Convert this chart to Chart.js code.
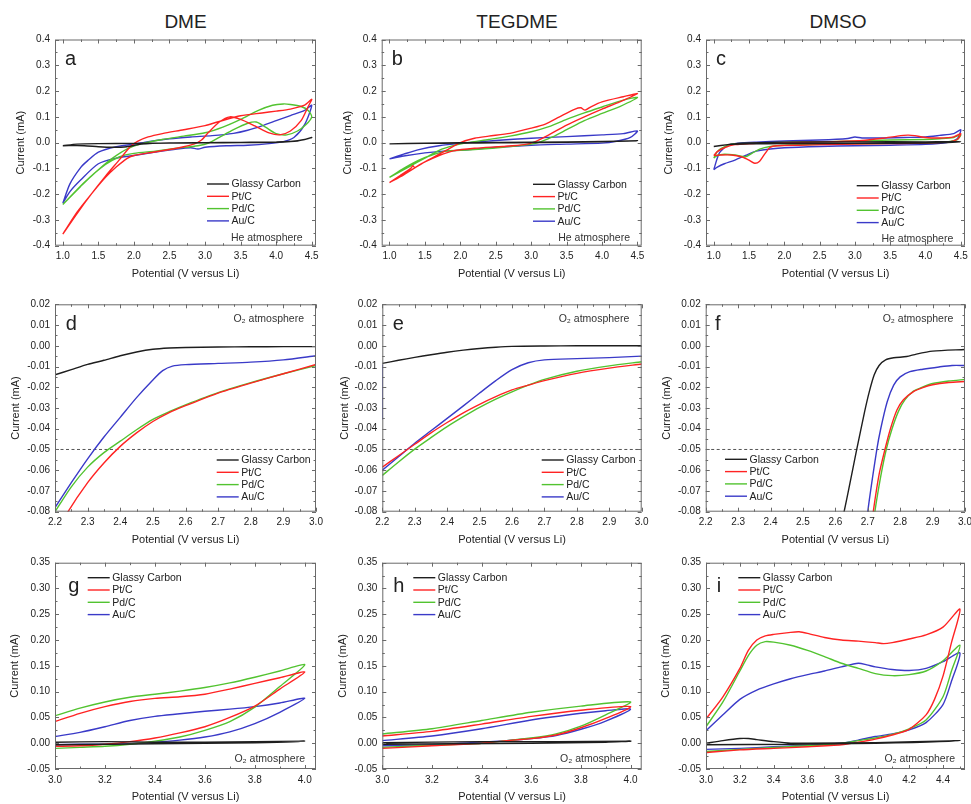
<!DOCTYPE html>
<html lang="en">
<head>
<meta charset="utf-8">
<title>Cyclic voltammetry in DME, TEGDME and DMSO</title>
<script src="https://cdn.jsdelivr.net/npm/chart.js@4.4.1/dist/chart.umd.min.js"></script>
<style>
  html, body { margin: 0; padding: 0; background: #fff; overflow: hidden; }
  body { position: relative; width: 971px; height: 804px; font-family: 'Liberation Sans', Arial, sans-serif; }
  .col-title { position: absolute; top: 11px; height: 22px; line-height: 22px; font-size: 19px; color: #222; transform: translateX(-50%); white-space: nowrap; }
  canvas { position: absolute; }
</style>
</head>
<body>
<div class="col-title" style="left:185.5px">DME</div>
<div class="col-title" style="left:517px">TEGDME</div>
<div class="col-title" style="left:838px">DMSO</div>
<script>
// ─── Series names / tick values ───────────────────────────────
const seriesNames = ['Glassy Carbon', 'Pt/C', 'Pd/C', 'Au/C'];
const seriesColors = ['#1e1e1e', '#ff2323', '#52c330', '#3a3ac8'];

const heTicksX = [1.0, 1.5, 2.0, 2.5, 3.0, 3.5, 4.0, 4.5];
const heTicksY = [-0.4, -0.3, -0.2, -0.1, 0.0, 0.1, 0.2, 0.3, 0.4];
const lsvTicksX = [2.2, 2.3, 2.4, 2.5, 2.6, 2.7, 2.8, 2.9, 3.0];
const lsvTicksY = [-0.08, -0.07, -0.06, -0.05, -0.04, -0.03, -0.02, -0.01, 0.00, 0.01, 0.02];
const o2TicksX = [3.0, 3.2, 3.4, 3.6, 3.8, 4.0];
const o2TicksXDmso = [3.0, 3.2, 3.4, 3.6, 3.8, 4.0, 4.2, 4.4];
const o2TicksY = [-0.05, 0.00, 0.05, 0.10, 0.15, 0.20, 0.25, 0.30, 0.35];
const lsvLimit = -0.05;

// ─── CV under He: [potential V, current mA] ───────────────────
const heDmeGC = [[1.0,-0.012],[1.2,-0.006],[1.5,-0.004],[2.0,-0.003],[2.5,-0.002],[3.0,-0.001],[3.5,0.0],[4.0,0.001],[4.2,0.004],[4.4,0.012],[4.5,0.02],
  [4.3,0.006],[4.0,0.002],[3.5,0.001],[3.0,0.0],[2.5,-0.001],[2.1,-0.006],[1.9,-0.016],[1.7,-0.018],[1.5,-0.016],[1.3,-0.012],[1.0,-0.012]];
const heDmePt = [[1.0,-0.355],[1.2,-0.27],[1.4,-0.2],[1.6,-0.135],[1.75,-0.095],[1.9,-0.062],[2.0,-0.05],[2.2,-0.04],[2.5,-0.027],[2.7,-0.016],[2.85,-0.005],
  [2.95,0.01],[3.05,0.04],[3.2,0.08],[3.35,0.1],[3.5,0.09],[3.7,0.065],[3.9,0.038],[4.05,0.03],[4.2,0.045],[4.35,0.085],[4.45,0.14],[4.5,0.168],
  [4.4,0.145],[4.2,0.13],[4.0,0.122],[3.8,0.115],[3.5,0.104],[3.2,0.082],[3.0,0.066],[2.7,0.05],[2.4,0.035],[2.2,0.022],[2.05,0.005],[1.95,-0.015],
  [1.8,-0.065],[1.6,-0.13],[1.4,-0.2],[1.2,-0.275],[1.0,-0.355]];
const heDmePd = [[1.0,-0.24],[1.25,-0.17],[1.4,-0.13],[1.6,-0.085],[1.8,-0.055],[2.0,-0.042],[2.3,-0.033],[2.6,-0.022],[2.9,-0.012],[3.05,-0.002],
  [3.2,0.02],[3.4,0.05],[3.6,0.075],[3.72,0.08],[3.85,0.06],[4.0,0.035],[4.15,0.03],[4.3,0.045],[4.42,0.07],[4.5,0.1],
  [4.45,0.125],[4.35,0.14],[4.2,0.148],[4.1,0.15],[3.95,0.145],[3.75,0.125],[3.5,0.09],[3.25,0.06],[3.0,0.038],[2.7,0.025],[2.4,0.012],[2.1,-0.005],
  [1.9,-0.025],[1.7,-0.06],[1.5,-0.105],[1.3,-0.155],[1.0,-0.24]];
const heDmeAu = [[1.0,-0.235],[1.1,-0.19],[1.25,-0.145],[1.5,-0.082],[1.75,-0.06],[2.0,-0.05],[2.3,-0.037],[2.6,-0.025],[2.8,-0.02],[2.9,-0.025],
  [3.0,-0.018],[3.3,-0.012],[3.6,-0.01],[3.9,-0.004],[4.1,0.004],[4.25,0.02],[4.4,0.07],[4.5,0.145],
  [4.4,0.125],[4.2,0.105],[4.0,0.085],[3.8,0.065],[3.6,0.048],[3.4,0.036],[3.1,0.027],[2.8,0.022],[2.5,0.015],[2.2,0.004],[2.0,-0.006],
  [1.75,-0.016],[1.5,-0.037],[1.35,-0.07],[1.25,-0.097],[1.1,-0.16],[1.0,-0.235]];

const heTegGC = [[1.0,-0.005],[1.5,-0.003],[2.0,-0.002],[2.5,-0.001],[3.0,0.0],[3.5,0.001],[4.0,0.003],[4.5,0.007],
  [4.0,0.004],[3.0,0.002],[2.0,0.0],[1.5,-0.002],[1.0,-0.005]];
const heTegPt = [[1.0,-0.155],[1.15,-0.128],[1.3,-0.1],[1.33,-0.09],[1.36,-0.097],[1.5,-0.075],[1.7,-0.05],[1.9,-0.032],[2.2,-0.022],[2.6,-0.015],
  [2.9,-0.008],[3.05,0.003],[3.25,0.03],[3.5,0.068],[3.75,0.1],[4.0,0.13],[4.25,0.158],[4.5,0.19],
  [4.3,0.178],[4.0,0.158],[3.85,0.14],[3.76,0.126],[3.7,0.135],[3.62,0.13],[3.4,0.1],[3.2,0.072],[3.0,0.056],[2.7,0.036],[2.4,0.025],[2.2,0.017],
  [2.0,0.0],[1.8,-0.03],[1.6,-0.06],[1.4,-0.09],[1.2,-0.125],[1.0,-0.155]];
const heTegPd = [[1.0,-0.135],[1.2,-0.1],[1.4,-0.07],[1.6,-0.048],[1.8,-0.033],[2.0,-0.03],[2.3,-0.025],[2.6,-0.018],[2.9,-0.01],[3.1,0.0],
  [3.3,0.022],[3.5,0.05],[3.75,0.085],[4.0,0.113],[4.25,0.14],[4.5,0.175],
  [4.3,0.165],[4.0,0.138],[3.75,0.115],[3.5,0.09],[3.25,0.062],[3.0,0.042],[2.7,0.025],[2.4,0.012],[2.1,0.0],[1.9,-0.012],[1.7,-0.03],
  [1.5,-0.06],[1.3,-0.09],[1.0,-0.135]];
const heTegAu = [[1.0,-0.063],[1.2,-0.052],[1.5,-0.04],[1.8,-0.032],[2.1,-0.028],[2.5,-0.018],[3.0,-0.01],[3.5,-0.006],[4.0,-0.002],[4.2,0.005],
  [4.4,0.02],[4.5,0.045],
  [4.3,0.035],[4.0,0.03],[3.5,0.023],[3.0,0.017],[2.5,0.008],[2.0,-0.003],[1.7,-0.012],[1.4,-0.028],[1.2,-0.045],[1.0,-0.063]];

const heDmsoGC = [[1.0,-0.015],[1.2,-0.008],[1.5,-0.005],[2.0,-0.004],[3.0,-0.003],[4.0,-0.002],[4.5,0.003],
  [4.0,0.003],[3.0,0.003],[2.0,0.002],[1.4,-0.002],[1.2,-0.008],[1.0,-0.015]];
const heDmsoPt = [[1.0,-0.05],[1.1,-0.048],[1.25,-0.048],[1.4,-0.056],[1.5,-0.068],[1.58,-0.08],[1.65,-0.072],[1.72,-0.045],[1.8,-0.018],[1.9,-0.012],
  [2.2,-0.01],[2.6,-0.008],[3.0,-0.006],[3.5,-0.004],[4.0,-0.002],[4.3,0.002],[4.45,0.012],[4.5,0.035],
  [4.4,0.022],[4.2,0.018],[4.0,0.02],[3.85,0.027],[3.75,0.029],[3.6,0.025],[3.4,0.017],[3.1,0.008],[2.6,0.003],[2.0,0.0],[1.6,-0.003],
  [1.3,-0.008],[1.15,-0.02],[1.05,-0.035],[1.0,-0.05]];
const heDmsoPd = [[1.0,-0.06],[1.05,-0.05],[1.15,-0.045],[1.3,-0.048],[1.45,-0.055],[1.55,-0.04],[1.65,-0.025],[1.8,-0.015],[2.0,-0.01],[2.5,-0.007],
  [3.0,-0.005],[3.5,-0.003],[4.0,-0.001],[4.3,0.003],[4.45,0.012],[4.5,0.03],
  [4.4,0.02],[4.2,0.015],[4.0,0.012],[3.5,0.01],[3.0,0.006],[2.5,0.003],[2.0,0.001],[1.5,-0.003],[1.25,-0.006],[1.12,-0.02],[1.05,-0.035],[1.0,-0.06]];
const heDmsoAu = [[1.0,-0.105],[1.05,-0.095],[1.15,-0.082],[1.3,-0.068],[1.45,-0.05],[1.6,-0.033],[1.8,-0.025],[2.0,-0.02],[2.5,-0.015],[3.0,-0.012],
  [3.5,-0.01],[4.0,-0.007],[4.3,0.0],[4.45,0.015],[4.5,0.05],
  [4.4,0.035],[4.2,0.028],[4.0,0.022],[3.7,0.02],[3.4,0.018],[3.1,0.018],[3.0,0.022],[2.9,0.016],[2.5,0.01],[2.0,0.006],[1.6,0.002],
  [1.35,-0.002],[1.2,-0.01],[1.08,-0.04],[1.0,-0.105]];

// ─── Linear sweeps under O2 (cathodic onset) ──────────────────
const lsvDmeGC = [[2.2,-0.014],[2.25,-0.0115],[2.3,-0.009],[2.35,-0.007],[2.4,-0.0048],[2.45,-0.003],[2.5,-0.0017],[2.55,-0.0011],[2.6,-0.0008],
  [2.7,-0.0006],[2.8,-0.0005],[2.9,-0.0004],[3.0,-0.0004]];
const lsvDmePt = [[2.2,-0.092],[2.24,-0.08],[2.3,-0.066],[2.35,-0.0565],[2.4,-0.0485],[2.45,-0.042],[2.5,-0.0365],[2.55,-0.0322],[2.6,-0.0289],
  [2.7,-0.0228],[2.8,-0.018],[2.9,-0.0135],[3.0,-0.009]];
const lsvDmePd = [[2.2,-0.08],[2.25,-0.068],[2.3,-0.0585],[2.35,-0.0515],[2.4,-0.046],[2.45,-0.0405],[2.5,-0.0355],[2.55,-0.0318],[2.6,-0.0285],
  [2.7,-0.0226],[2.8,-0.0178],[2.9,-0.0135],[3.0,-0.0095]];
const lsvDmeAu = [[2.2,-0.078],[2.25,-0.066],[2.3,-0.0545],[2.35,-0.044],[2.4,-0.0345],[2.45,-0.025],[2.5,-0.0165],[2.53,-0.012],[2.56,-0.0098],
  [2.6,-0.0091],[2.7,-0.0085],[2.8,-0.0079],[2.9,-0.0068],[3.0,-0.0048]];

const lsvTegGC = [[2.2,-0.0085],[2.25,-0.007],[2.3,-0.0056],[2.35,-0.0043],[2.4,-0.0031],[2.45,-0.0021],[2.5,-0.0013],[2.55,-0.0007],[2.6,-0.0003],
  [2.7,-0.0001],[2.8,0.0],[3.0,0.0]];
const lsvTegPt = [[2.2,-0.0585],[2.25,-0.053],[2.3,-0.0475],[2.35,-0.042],[2.4,-0.037],[2.45,-0.0323],[2.5,-0.0282],[2.55,-0.0245],[2.6,-0.0213],
  [2.65,-0.019],[2.7,-0.0168],[2.8,-0.0133],[2.9,-0.0108],[3.0,-0.0088]];
const lsvTegPd = [[2.2,-0.0625],[2.25,-0.056],[2.3,-0.0498],[2.35,-0.0443],[2.4,-0.039],[2.45,-0.0342],[2.5,-0.0297],[2.55,-0.0257],[2.6,-0.0222],
  [2.65,-0.019],[2.7,-0.0162],[2.8,-0.0123],[2.9,-0.0097],[3.0,-0.0077]];
const lsvTegAu = [[2.2,-0.0355],[2.2,-0.009],null,[2.2,-0.06],[2.25,-0.0535],[2.3,-0.047],[2.35,-0.041],[2.4,-0.035],[2.45,-0.029],[2.5,-0.0228],
  [2.55,-0.0168],[2.6,-0.0115],[2.65,-0.0082],[2.7,-0.0068],[2.8,-0.0062],[2.9,-0.0057],[3.0,-0.005]];

const lsvDmsoGC = [[2.61,-0.09],[2.627,-0.08],[2.666,-0.05],[2.69,-0.032],[2.705,-0.022],[2.72,-0.014],[2.735,-0.0095],[2.755,-0.0068],[2.78,-0.0058],
  [2.82,-0.0052],[2.85,-0.004],[2.9,-0.0026],[3.0,-0.0018]];
const lsvDmsoPt = [[2.71,-0.09],[2.717,-0.08],[2.735,-0.062],[2.753,-0.05],[2.77,-0.04],[2.79,-0.031],[2.81,-0.026],[2.84,-0.0222],[2.87,-0.0202],
  [2.9,-0.0188],[2.95,-0.0177],[3.0,-0.0172]];
const lsvDmsoPd = [[2.715,-0.09],[2.722,-0.08],[2.74,-0.063],[2.757,-0.05],[2.775,-0.04],[2.795,-0.0315],[2.815,-0.026],[2.84,-0.022],[2.87,-0.0198],
  [2.9,-0.0182],[2.95,-0.017],[3.0,-0.0162]];
const lsvDmsoAu = [[2.695,-0.09],[2.70,-0.08],[2.728,-0.05],[2.74,-0.04],[2.76,-0.027],[2.78,-0.019],[2.8,-0.015],[2.83,-0.0125],[2.87,-0.0113],
  [2.92,-0.0102],[2.96,-0.0095],[3.0,-0.0095]];

// ─── CV under O2, oxidation region ────────────────────────────
const o2DmeGC = [[3.0,-0.003],[3.2,-0.002],[3.4,-0.001],[3.6,0.0],[3.8,0.001],[4.0,0.004],[3.8,0.003],[3.6,0.002],[3.4,0.002],[3.2,0.003],[3.0,0.002]];
const o2DmePt = [[3.0,-0.006],[3.1,-0.005],[3.2,-0.002],[3.3,0.003],[3.4,0.01],[3.5,0.02],[3.6,0.032],[3.7,0.05],[3.8,0.072],[3.9,0.105],[4.0,0.138],
  [3.9,0.127],[3.8,0.116],[3.7,0.105],[3.6,0.095],[3.5,0.09],[3.4,0.087],[3.3,0.081],[3.2,0.071],[3.1,0.058],[3.0,0.042]];
const o2DmePd = [[3.0,-0.01],[3.1,-0.008],[3.2,-0.006],[3.3,-0.002],[3.4,0.004],[3.5,0.012],[3.6,0.025],[3.7,0.042],[3.8,0.07],[3.9,0.11],[4.0,0.152],
  [3.9,0.14],[3.8,0.128],[3.7,0.117],[3.6,0.108],[3.5,0.101],[3.4,0.095],[3.3,0.089],[3.2,0.08],[3.1,0.068],[3.0,0.053]];
const o2DmeAu = [[3.0,-0.003],[3.1,-0.002],[3.2,-0.002],[3.3,-0.001],[3.4,0.002],[3.5,0.006],[3.6,0.012],[3.7,0.022],[3.8,0.038],[3.9,0.06],[4.0,0.087],
  [3.9,0.078],[3.8,0.071],[3.7,0.066],[3.6,0.062],[3.5,0.057],[3.4,0.052],[3.3,0.044],[3.2,0.032],[3.1,0.021],[3.0,0.013]];

const o2TegGC = [[3.0,-0.002],[3.3,-0.001],[3.6,0.0],[3.9,0.002],[4.0,0.004],[3.7,0.003],[3.4,0.003],[3.0,0.001]];
const o2TegPt = [[3.0,-0.01],[3.2,-0.005],[3.4,0.0],[3.5,0.005],[3.6,0.009],[3.7,0.016],[3.8,0.03],[3.9,0.048],[4.0,0.071],
  [3.8,0.064],[3.6,0.052],[3.4,0.037],[3.2,0.023],[3.0,0.014]];
const o2TegPd = [[3.0,-0.008],[3.2,-0.004],[3.4,0.0],[3.5,0.005],[3.6,0.01],[3.7,0.018],[3.8,0.033],[3.9,0.055],[4.0,0.08],
  [3.8,0.072],[3.6,0.06],[3.4,0.044],[3.2,0.028],[3.0,0.018]];
const o2TegAu = [[3.0,-0.005],[3.2,-0.003],[3.4,0.002],[3.5,0.005],[3.6,0.009],[3.7,0.015],[3.8,0.027],[3.9,0.043],[4.0,0.066],
  [3.9,0.063],[3.8,0.058],[3.6,0.045],[3.4,0.028],[3.2,0.014],[3.0,0.005]];

const o2DmsoGC = [[3.0,-0.003],[3.5,-0.002],[4.0,0.0],[4.5,0.005],[4.0,0.001],[3.6,0.0],[3.5,0.0],[3.4,0.003],[3.3,0.007],[3.25,0.009],[3.2,0.009],
  [3.1,0.005],[3.0,0.0]];
const o2DmsoPt = [[3.0,-0.018],[3.2,-0.013],[3.4,-0.01],[3.6,-0.007],[3.8,-0.003],[3.9,0.002],[4.0,0.008],[4.1,0.016],[4.2,0.027],[4.3,0.055],
  [4.35,0.085],[4.4,0.13],[4.45,0.195],[4.5,0.26],
  [4.4,0.225],[4.3,0.21],[4.2,0.202],[4.1,0.195],[4.05,0.193],[4.0,0.195],[3.9,0.198],[3.8,0.2],[3.7,0.205],[3.6,0.213],[3.55,0.216],[3.5,0.215],
  [3.4,0.211],[3.35,0.208],[3.3,0.2],[3.25,0.18],[3.2,0.145],[3.1,0.09],[3.0,0.047]];
const o2DmsoPd = [[3.0,-0.016],[3.2,-0.012],[3.4,-0.008],[3.6,-0.005],[3.8,0.0],[3.9,0.005],[4.0,0.01],[4.1,0.017],[4.2,0.028],[4.3,0.045],[4.4,0.09],
  [4.45,0.14],[4.5,0.19],
  [4.4,0.16],[4.3,0.14],[4.2,0.133],[4.1,0.131],[4.0,0.135],[3.9,0.145],[3.8,0.155],[3.7,0.168],[3.6,0.18],[3.5,0.19],[3.4,0.196],[3.35,0.197],
  [3.3,0.19],[3.25,0.17],[3.2,0.14],[3.1,0.08],[3.0,0.032]];
const o2DmsoAu = [[3.0,-0.012],[3.2,-0.01],[3.4,-0.007],[3.6,-0.004],[3.8,0.0],[3.9,0.006],[4.0,0.013],[4.1,0.018],[4.2,0.026],[4.3,0.04],[4.4,0.075],
  [4.45,0.12],[4.5,0.175],
  [4.4,0.158],[4.3,0.145],[4.2,0.141],[4.1,0.143],[4.0,0.148],[3.95,0.152],[3.9,0.155],[3.8,0.148],[3.7,0.14],[3.6,0.133],[3.5,0.125],[3.4,0.115],
  [3.3,0.103],[3.2,0.085],[3.1,0.055],[3.0,0.024]];

// ─── Panel layout (page px) ───────────────────────────────────
const rowHe = { xTicks: heTicksX, yTicks: heTicksY, xMin: 0.89, xMax: 4.56, yMin: -0.4, yMax: 0.4, xDec: 1, yDec: 1,
  top: 39.5, bottom: 245.7, xTitleY: 274, note: 'He atmosphere' };
const rowLsv = { xTicks: lsvTicksX, yTicks: lsvTicksY, xMin: 2.2, xMax: 3.0, yMin: -0.08, yMax: 0.02, xDec: 1, yDec: 2,
  top: 304.3, bottom: 511.7, xTitleY: 540, note: 'O\u2082 atmosphere', refLine: lsvLimit };
const rowO2 = { xTicks: o2TicksX, yTicks: o2TicksY, xMin: 3.0, xMax: 4.045, yMin: -0.05, yMax: 0.35, xDec: 1, yDec: 2,
  top: 562.7, bottom: 769, xTitleY: 797, note: 'O\u2082 atmosphere' };

const panels = [
  { ...rowHe, letter: 'a', series: [heDmeGC, heDmePt, heDmePd, heDmeAu], left: 55, right: 316, yTitleX: 21,
    letterAt: [65, 65], legendAt: [207, 184], noteAt: [302.7, 237.7] },
  { ...rowHe, letter: 'b', series: [heTegGC, heTegPt, heTegPd, heTegAu], left: 381.7, right: 641.7, yTitleX: 348,
    letterAt: [391.7, 65], legendAt: [533, 184.3], noteAt: [630, 237.7] },
  { ...rowHe, letter: 'c', series: [heDmsoGC, heDmsoPt, heDmsoPd, heDmsoAu], left: 706, right: 965, yTitleX: 669,
    letterAt: [716, 65], legendAt: [856.7, 185.7], noteAt: [953.3, 238.7] },
  { ...rowLsv, letter: 'd', series: [lsvDmeGC, lsvDmePt, lsvDmePd, lsvDmeAu], left: 55, right: 316, yTitleX: 16,
    letterAt: [65.7, 330], legendAt: [216.7, 460], noteAt: [304, 319.3] },
  { ...rowLsv, letter: 'e', series: [lsvTegGC, lsvTegPt, lsvTegPd, lsvTegAu], left: 382.3, right: 641.7, yTitleX: 345,
    letterAt: [392.7, 330], legendAt: [541.7, 460], noteAt: [629.3, 319.3] },
  { ...rowLsv, letter: 'f', series: [lsvDmsoGC, lsvDmsoPt, lsvDmsoPd, lsvDmsoAu], left: 705.7, right: 965, yTitleX: 667,
    letterAt: [715, 330], legendAt: [725, 459.3], noteAt: [953.3, 319.3] },
  { ...rowO2, letter: 'g', series: [o2DmeGC, o2DmePt, o2DmePd, o2DmeAu], left: 55, right: 316, yTitleX: 15,
    letterAt: [68.3, 591.7], legendAt: [87.7, 577.7], noteAt: [305, 759.3] },
  { ...rowO2, letter: 'h', series: [o2TegGC, o2TegPt, o2TegPd, o2TegAu], left: 382.3, right: 641.7, yTitleX: 343,
    letterAt: [393.3, 591.7], legendAt: [413.3, 577.7], noteAt: [630.7, 759.3] },
  { ...rowO2, letter: 'i', series: [o2DmsoGC, o2DmsoPt, o2DmsoPd, o2DmsoAu], left: 706, right: 965, yTitleX: 666,
    xTicks: o2TicksXDmso, xMax: 4.53, letterAt: [716.7, 591.7], legendAt: [738.3, 577.7], noteAt: [955, 759.3] },
];

const FONT = "'Liberation Sans', Arial, sans-serif";
const TEXT = '#222';
const FRAME = '#6a6a6a';
const TITLE_LH = 13.2; // 11px * 1.2

Chart.defaults.font.family = FONT;
Chart.defaults.color = TEXT;

const toPoints = arr => arr.map(p => p ? { x: p[0], y: p[1] } : { x: null, y: null });

// ─── Frame with inward major/minor ticks on all four sides ────
const framePlugin = {
  id: 'frame',
  afterDatasetsDraw(chart) {
    const { ctx, chartArea: a, scales: { x, y } } = chart;
    ctx.save();
    ctx.strokeStyle = FRAME;
    ctx.lineWidth = 1;
    ctx.strokeRect(a.left + 0.5, a.top + 0.5, a.width - 1, a.height - 1);

    const marks = (scale) => {
      const vals = scale.ticks.map(t => t.value);
      const step = vals[1] - vals[0];
      const out = vals.map(v => [v, 4]);
      vals.forEach(v => { out.push([v + step / 2, 2.5]); });
      out.push([vals[0] - step / 2, 2.5]);
      return out.filter(([v]) => v >= scale.min - 1e-9 && v <= scale.max + 1e-9);
    };
    ctx.beginPath();
    marks(x).forEach(([v, len]) => {
      const px = Math.round(x.getPixelForValue(v)) + 0.5;
      ctx.moveTo(px, a.bottom); ctx.lineTo(px, a.bottom - len);
      ctx.moveTo(px, a.top); ctx.lineTo(px, a.top + len);
    });
    marks(y).forEach(([v, len]) => {
      const py = Math.round(y.getPixelForValue(v)) + 0.5;
      ctx.moveTo(a.left, py); ctx.lineTo(a.left + len, py);
      ctx.moveTo(a.right, py); ctx.lineTo(a.right - len, py);
    });
    ctx.stroke();
    ctx.restore();
  }
};

// ─── Panel letter, legend and atmosphere note ─────────────────
const annotPlugin = {
  id: 'annot',
  afterDraw(chart, args, opts) {
    const { ctx } = chart;
    const ox = opts.originX, oy = opts.originY;
    ctx.save();

    ctx.fillStyle = TEXT;
    ctx.font = `20px ${FONT}`;
    ctx.textAlign = 'left';
    ctx.textBaseline = 'alphabetic';
    ctx.fillText(opts.letter, opts.letterAt[0] - ox, opts.letterAt[1] - oy);

    ctx.font = `10.5px ${FONT}`;
    ctx.textBaseline = 'middle';
    const lx = opts.legendAt[0] - ox;
    chart.data.datasets.filter(ds => !ds.isReference).forEach((ds, i) => {
      const ly = opts.legendAt[1] - oy + i * 12.3;
      ctx.strokeStyle = ds.borderColor;
      ctx.lineWidth = 1.4;
      ctx.beginPath();
      ctx.moveTo(lx, ly); ctx.lineTo(lx + 22, ly);
      ctx.stroke();
      ctx.fillStyle = TEXT;
      ctx.fillText(ds.label, lx + 24.5, ly + 0.5);
    });

    ctx.fillStyle = '#333';
    ctx.textAlign = 'right';
    ctx.fillText(opts.note, opts.noteAt[0] - ox, opts.noteAt[1] - oy);
    ctx.restore();
  }
};

function buildPanel(p) {
  const cLeft = Math.round(p.yTitleX - TITLE_LH / 2);
  const cTop = Math.round(p.top - 10);
  const cWidth = Math.ceil(p.right + 8 - cLeft);
  const cHeight = Math.min(804 - cTop, Math.ceil(p.xTitleY + TITLE_LH / 2 - cTop));

  const yAxisW = p.left - cLeft;
  const xAxisH = cTop + cHeight - p.bottom;

  const canvas = document.createElement('canvas');
  canvas.width = cWidth;
  canvas.height = cHeight;
  canvas.style.left = cLeft + 'px';
  canvas.style.top = cTop + 'px';
  canvas.style.width = cWidth + 'px';
  canvas.style.height = cHeight + 'px';
  document.body.appendChild(canvas);

  const datasets = p.series.map((s, i) => ({
    label: seriesNames[i],
    data: toPoints(s),
    borderColor: seriesColors[i],
    borderWidth: 1.4,
    pointRadius: 0,
    showLine: true,
    tension: 0.25,
    spanGaps: false,
  }));
  // draw the glassy carbon trace on top of the others
  datasets.forEach((ds, i) => { ds.order = i === 0 ? 0 : 1; });

  if (p.refLine !== undefined) {
    datasets.push({
      label: 'limit',
      isReference: true,
      data: [{ x: p.xMin, y: p.refLine }, { x: p.xMax, y: p.refLine }],
      borderColor: '#555',
      borderWidth: 1,
      borderDash: [3, 2.5],
      pointRadius: 0,
      showLine: true,
      order: 2,
    });
  }

  new Chart(canvas, {
    type: 'scatter',
    data: { datasets },
    options: {
      responsive: false,
      animation: false,
      events: [],
      layout: { padding: { top: p.top - cTop, right: cLeft + cWidth - p.right, left: 0, bottom: 0 } },
      plugins: {
        legend: { display: false },
        tooltip: { enabled: false },
        annot: {
          originX: cLeft, originY: cTop, letter: p.letter, letterAt: p.letterAt,
          legendAt: p.legendAt, note: p.note, noteAt: p.noteAt
        }
      },
      scales: {
        x: {
          type: 'linear',
          min: p.xMin, max: p.xMax,
          grid: { display: false, drawTicks: false },
          border: { display: false },
          ticks: { padding: 5, font: { size: 10 }, color: TEXT, callback: v => Number(v).toFixed(p.xDec) },
          title: { display: true, text: 'Potential (V versus Li)', font: { size: 11 }, color: TEXT, padding: 0 },
          afterBuildTicks: scale => { scale.ticks = p.xTicks.map(v => ({ value: v })); },
          afterFit: scale => { scale.height = xAxisH; scale.paddingLeft = 0; scale.paddingRight = 0; }
        },
        y: {
          type: 'linear',
          min: p.yMin, max: p.yMax,
          grid: { display: false, drawTicks: false },
          border: { display: false },
          ticks: { padding: 5, font: { size: 10 }, color: TEXT, callback: v => Number(v).toFixed(p.yDec) },
          title: { display: true, text: 'Current (mA)', font: { size: 11 }, color: TEXT, padding: 0 },
          afterBuildTicks: scale => { scale.ticks = p.yTicks.map(v => ({ value: v })); },
          afterFit: scale => { scale.width = yAxisW; scale.paddingTop = 0; scale.paddingBottom = 0; }
        }
      }
    },
    plugins: [framePlugin, annotPlugin]
  });
}

panels.forEach(buildPanel);
</script>
</body>
</html>
